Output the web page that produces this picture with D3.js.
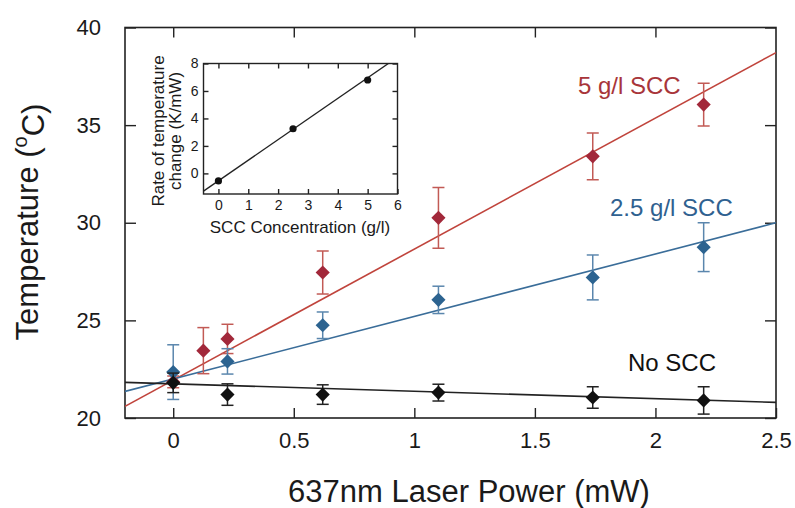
<!DOCTYPE html>
<html>
<head>
<meta charset="utf-8">
<script src="https://cdn.jsdelivr.net/npm/d3@7"></script>
<style>
  body { margin: 0; background: #fff; }
  svg text { font-family: "Liberation Sans", Arial, sans-serif; fill: #1a1a1a; }
  .axis path { display: none; }
  .axis line { stroke: #222; stroke-width: 1.4; }
</style>
</head>
<body>
<div id="chart"></div>
<script>
// main plot data
var powerNo = [0, 0.225, 0.62, 1.1, 1.74, 2.2];
var tempNo = [21.8, 21.2, 21.2, 21.3, 21.05, 20.9];
var errNo = [0.5, 0.55, 0.5, 0.43, 0.55, 0.7];

var power25 = [0, 0.225, 0.62, 1.1, 1.74, 2.2];
var temp25 = [22.35, 22.9, 24.75, 26.05, 27.2, 28.75];
var err25 = [1.4, 0.65, 0.68, 0.7, 1.15, 1.25];

var power5 = [0, 0.125, 0.225, 0.62, 1.1, 1.74, 2.2];
var temp5 = [21.85, 23.45, 24.05, 27.45, 30.25, 33.4, 36.05];
var err5 = [0.3, 1.18, 0.75, 1.1, 1.55, 1.2, 1.1];

// linear fits (slope K/mW, intercept degC)
var seriesNames = ["5 g/l SCC", "2.5 g/l SCC", "No SCC"];
var fitSlope = [6.71, 3.2, -0.38];
var fitIntercept = [21.94, 22.0, 21.75];

// inset data
var conc = [0, 2.5, 5];
var rate = [-0.55, 3.25, 6.8];
var insetSlope = 1.5;
var insetIntercept = -0.54;

var xTicks = [0, 0.5, 1, 1.5, 2, 2.5];
var yTicks = [20, 25, 30, 35, 40];
var insetXTicks = [0, 1, 2, 3, 4, 5, 6];
var insetYTicks = [0, 2, 4, 6, 8];

var width = 795, height = 508;
var svg = d3.select("#chart").append("svg")
  .attr("width", width)
  .attr("height", height);

var x = d3.scaleLinear().domain([-0.2, 2.5]).range([125, 776]);
var y = d3.scaleLinear().domain([20, 40]).range([418, 27.5]);

var series = [
  { name: seriesNames[0], px: power5, t: temp5, e: err5, dot: "#a2283a", bar: "#c25a55", line: "#c0443c", text: "#a8353a",
    lx: 578, ly: 94 },
  { name: seriesNames[1], px: power25, t: temp25, e: err25, dot: "#2c6390", bar: "#5a86ad", line: "#3a6d99", text: "#2f6190",
    lx: 610, ly: 216 },
  { name: seriesNames[2], px: powerNo, t: tempNo, e: errNo, dot: "#111", bar: "#222", line: "#222", text: "#111",
    lx: 628, ly: 371 }
];

svg.append("defs").append("clipPath").attr("id", "clip")
  .append("rect")
  .attr("x", x.range()[0]).attr("y", y.range()[1])
  .attr("width", x.range()[1] - x.range()[0])
  .attr("height", y.range()[0] - y.range()[1]);

// axes, ticks pointing inward
svg.append("g").attr("class", "axis")
  .attr("transform", "translate(0," + y.range()[0] + ")")
  .call(d3.axisBottom(x).tickValues(xTicks).tickSizeInner(-10).tickSizeOuter(0).tickPadding(14)
    .tickFormat(d3.format("")))
  .call(g => g.selectAll("text").style("font-size", "22px"));

svg.append("g").attr("class", "axis")
  .attr("transform", "translate(0," + y.range()[1] + ")")
  .call(d3.axisTop(x).tickValues(xTicks.slice(0, 5)).tickSizeInner(-10).tickSizeOuter(0).tickFormat(""));

svg.append("g").attr("class", "axis")
  .attr("transform", "translate(" + x.range()[0] + ",0)")
  .call(d3.axisLeft(y).tickValues(yTicks).tickSizeInner(-11).tickSizeOuter(0).tickPadding(24))
  .call(g => g.selectAll("text").style("font-size", "22px"));

svg.append("g").attr("class", "axis")
  .attr("transform", "translate(" + x.range()[1] + ",0)")
  .call(d3.axisRight(y).tickValues(yTicks).tickSizeInner(-11).tickSizeOuter(0).tickFormat(""));

// frame
svg.append("rect")
  .attr("x", x.range()[0]).attr("y", y.range()[1])
  .attr("width", x.range()[1] - x.range()[0])
  .attr("height", y.range()[0] - y.range()[1])
  .attr("fill", "none").attr("stroke", "#222").attr("stroke-width", 1.6);

// fit lines
var plot = svg.append("g").attr("clip-path", "url(#clip)");
series.forEach(function (s, i) {
  var xs = x.domain();
  plot.append("line")
    .attr("x1", x(xs[0])).attr("y1", y(fitIntercept[i] + fitSlope[i] * xs[0]))
    .attr("x2", x(xs[1])).attr("y2", y(fitIntercept[i] + fitSlope[i] * xs[1]))
    .attr("stroke", s.line).attr("stroke-width", 1.6);
});

// error bars + diamonds
var diamond = d3.symbol(d3.symbolSquare, 100);
series.forEach(function (s) {
  var pts = s.px.map(function (p, j) { return { p: p, t: s.t[j], e: s.e[j] }; });
  var g = plot.append("g");
  var eb = g.selectAll(".eb").data(pts).enter().append("g")
    .attr("stroke", s.bar).attr("stroke-width", 1.5);
  eb.append("line")
    .attr("x1", d => x(d.p)).attr("x2", d => x(d.p))
    .attr("y1", d => y(d.t - d.e)).attr("y2", d => y(d.t + d.e));
  [-1, 1].forEach(function (k) {
    eb.append("line")
      .attr("x1", d => x(d.p) - 6).attr("x2", d => x(d.p) + 6)
      .attr("y1", d => y(d.t + k * d.e)).attr("y2", d => y(d.t + k * d.e));
  });
  g.selectAll(".pt").data(pts).enter().append("path")
    .attr("d", diamond)
    .attr("transform", d => "translate(" + x(d.p) + "," + y(d.t) + ") rotate(45)")
    .attr("fill", s.dot);

  svg.append("text")
    .attr("x", s.lx).attr("y", s.ly)
    .style("font-size", "24px")
    .style("fill", s.text)
    .text(s.name);
});

// axis titles
svg.append("text")
  .attr("x", 469).attr("y", 502)
  .attr("text-anchor", "middle")
  .style("font-size", "31px")
  .text("637nm Laser Power (mW)");

var yt = svg.append("text")
  .attr("transform", "translate(38,222) rotate(-90)")
  .attr("text-anchor", "middle")
  .style("font-size", "31px");
yt.append("tspan").text("Temperature (");
yt.append("tspan").attr("dy", "-0.55em").style("font-size", "20px").text("o");
yt.append("tspan").attr("dy", "0.55em").text("C)");

// inset
var xi = d3.scaleLinear().domain([-0.5, 6]).range([203.5, 397.5]);
var yi = d3.scaleLinear().domain([-1.5, 8]).range([194, 63.5]);
var inset = svg.append("g");

inset.append("g").attr("class", "axis")
  .attr("transform", "translate(0," + yi.range()[0] + ")")
  .call(d3.axisBottom(xi).tickValues(insetXTicks).tickSizeInner(-5).tickSizeOuter(0).tickPadding(6)
    .tickFormat(d3.format("d")))
  .call(g => g.selectAll("text").style("font-size", "14px"));
inset.append("g").attr("class", "axis")
  .attr("transform", "translate(0," + yi.range()[1] + ")")
  .call(d3.axisTop(xi).tickValues(insetXTicks.slice(0, 6)).tickSizeInner(-5).tickSizeOuter(0).tickFormat(""));
inset.append("g").attr("class", "axis")
  .attr("transform", "translate(" + xi.range()[0] + ",0)")
  .call(d3.axisLeft(yi).tickValues(insetYTicks).tickSizeInner(-5).tickSizeOuter(0).tickPadding(5)
    .tickFormat(d3.format("d")))
  .call(g => g.selectAll("text").style("font-size", "14px"));
inset.append("g").attr("class", "axis")
  .attr("transform", "translate(" + xi.range()[1] + ",0)")
  .call(d3.axisRight(yi).tickValues(insetYTicks).tickSizeInner(-5).tickSizeOuter(0).tickFormat(""));

inset.append("rect")
  .attr("x", xi.range()[0]).attr("y", yi.range()[1])
  .attr("width", xi.range()[1] - xi.range()[0])
  .attr("height", yi.range()[0] - yi.range()[1])
  .attr("fill", "none").attr("stroke", "#222").attr("stroke-width", 1.4);

inset.append("clipPath").attr("id", "iclip")
  .append("rect")
  .attr("x", xi.range()[0]).attr("y", yi.range()[1])
  .attr("width", xi.range()[1] - xi.range()[0])
  .attr("height", yi.range()[0] - yi.range()[1]);

var ixs = xi.domain();
inset.append("line")
  .attr("clip-path", "url(#iclip)")
  .attr("x1", xi(ixs[0])).attr("y1", yi(insetIntercept + insetSlope * ixs[0]))
  .attr("x2", xi(ixs[1])).attr("y2", yi(insetIntercept + insetSlope * ixs[1]))
  .attr("stroke", "#222").attr("stroke-width", 1.3);

inset.selectAll(".ipt").data(conc).enter().append("circle")
  .attr("cx", d => xi(d))
  .attr("cy", (d, i) => yi(rate[i]))
  .attr("r", 3.6)
  .attr("fill", "#111");

inset.append("text")
  .attr("x", 300).attr("y", 233)
  .attr("text-anchor", "middle")
  .style("font-size", "17px")
  .text("SCC Concentration (g/l)");

inset.append("text")
  .attr("transform", "translate(164,131) rotate(-90)")
  .attr("text-anchor", "middle")
  .style("font-size", "17px")
  .text("Rate of temperature");
inset.append("text")
  .attr("transform", "translate(181,131) rotate(-90)")
  .attr("text-anchor", "middle")
  .style("font-size", "17px")
  .text("change (K/mW)");
</script>
</body>
</html>
